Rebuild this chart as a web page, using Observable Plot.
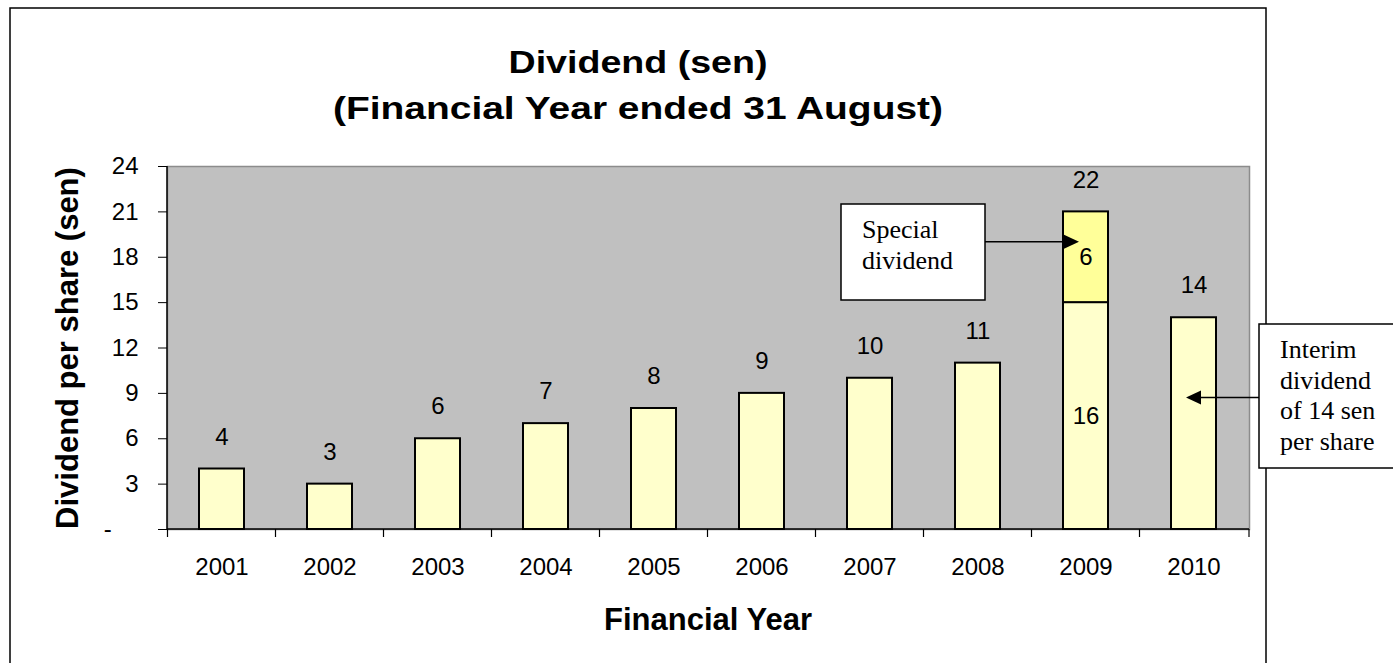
<!DOCTYPE html>
<html>
<head>
<meta charset="utf-8">
<script src="https://cdn.jsdelivr.net/npm/d3@7"></script>
<script src="https://cdn.jsdelivr.net/npm/@observablehq/plot@0.6"></script>
<style>
  html, body { margin: 0; padding: 0; background: white; overflow: hidden; }
  svg { display: block; }
</style>
</head>
<body>
<div id="chart"></div>
<script>
// ---- data ----
const years = ["2001","2002","2003","2004","2005","2006","2007","2008","2009","2010"];
const interimDrawn = [4, 3, 6, 7, 8, 9, 10, 11, 15, 14];   // bar heights as drawn
const specialDrawn = [0, 0, 0, 0, 0, 0, 0, 0, 6, 0];       // special-dividend segment as drawn
const totalLabels = ["4","3","6","7","8","9","10","11","22","14"];
const interimLabels = ["","","","","","","","","16",""];
const specialLabels = ["","","","","","","","","6",""];
const yTicks = [0, 3, 6, 9, 12, 15, 18, 21, 24];

const titleLines = ["Dividend (sen)", "(Financial Year ended 31 August)"];
const xTitle = "Financial Year";
const yTitle = "Dividend per share (sen)";
const specialNote = ["Special", "dividend"];
const interimNote = ["Interim", "dividend", "of 14 sen", "per share"];

// ---- tables built from the arrays ----
const rows = years.map((year, i) => ({
  year, interim: interimDrawn[i], special: specialDrawn[i],
  total: interimDrawn[i] + specialDrawn[i], label: totalLabels[i]
}));
const inBar = [];
years.forEach((year, i) => {
  if (interimLabels[i]) inBar.push({year, mid: interimDrawn[i] / 2, text: interimLabels[i]});
  if (specialLabels[i]) inBar.push({year, mid: interimDrawn[i] + specialDrawn[i] / 2, text: specialLabels[i]});
});

const FONT = "Arial, 'Liberation Sans', Helvetica, sans-serif";
const SERIF = "'Times New Roman', 'Liberation Serif', Times, serif";

const plot = Plot.plot({
  width: 1393,
  height: 663,
  marginLeft: 167,
  marginRight: 144,
  marginTop: 166,
  marginBottom: 134,
  style: {fontFamily: FONT, fontSize: "24px", color: "black", background: "white", overflow: "visible"},
  x: {type: "band", domain: years, paddingInner: 0.58, paddingOuter: 0.29, label: null},
  y: {domain: [0, 24], label: null},
  marks: [
    Plot.frame({fill: "#c0c0c0", stroke: "#8c8c8c", strokeWidth: 1.5}),
    Plot.barY(rows, {x: "year", y1: 0, y2: "interim", fill: "#ffffcc", stroke: "black", strokeWidth: 2}),
    Plot.barY(rows.filter(d => d.special > 0), {x: "year", y1: "interim", y2: "total", fill: "#ffff99", stroke: "black", strokeWidth: 2}),
    Plot.text(rows, {x: "year", y: "total", text: "label", dy: -32, fontSize: 24, fill: "black"}),
    Plot.text(inBar, {x: "year", y: "mid", text: "text", fontSize: 24, fill: "black"}),
    Plot.axisY({ticks: yTicks, tickSize: 9, tickPadding: 20, fontSize: 24, label: null,
      tickFormat: d => d === 0 ? "-\u2007\u2007" : String(d)}),
    Plot.axisX({tickSize: 0, tickPadding: 28, fontSize: 24, label: null})
  ]
});

const svg = d3.select(plot);
const xs = plot.scale("x");
const ys = plot.scale("y");
const [x0, x1] = xs.range;
const [yb, yt] = ys.range;

// outer chart frame
svg.append("rect").attr("x", 10).attr("y", 8).attr("width", 1256).attr("height", 720)
  .attr("fill", "none").attr("stroke", "black").attr("stroke-width", 1.5);

// black axis lines (left and bottom)
svg.append("line").attr("x1", x0).attr("x2", x0).attr("y1", yt).attr("y2", yb)
  .attr("stroke", "black").attr("stroke-width", 1.5);
svg.append("line").attr("x1", x0).attr("x2", x1).attr("y1", yb).attr("y2", yb)
  .attr("stroke", "black").attr("stroke-width", 1.5);

// category-boundary ticks (Excel style)
const gap = (xs.step - xs.bandwidth) / 2;
const bounds = years.map(y => xs.apply(y) - gap).concat([x1]);
svg.append("g").selectAll("line").data(bounds).join("line")
  .attr("x1", d => d).attr("x2", d => d).attr("y1", yb).attr("y2", yb + 8)
  .attr("stroke", "black").attr("stroke-width", 1.2);

// titles
const title = svg.append("text").attr("text-anchor", "middle")
  .attr("font-family", FONT).attr("font-weight", "bold").attr("font-size", 31).attr("fill", "black");
title.append("tspan").attr("x", 638).attr("y", 73).attr("textLength", 259).attr("lengthAdjust", "spacingAndGlyphs").text(titleLines[0]);
title.append("tspan").attr("x", 638).attr("y", 119).attr("textLength", 610).attr("lengthAdjust", "spacingAndGlyphs").text(titleLines[1]);

svg.append("text").attr("x", 708).attr("y", 630).attr("text-anchor", "middle")
  .attr("font-family", FONT).attr("font-weight", "bold").attr("font-size", 31).attr("fill", "black")
  .text(xTitle);

svg.append("text").attr("transform", "translate(78,348) rotate(-90)").attr("text-anchor", "middle")
  .attr("font-family", FONT).attr("font-weight", "bold").attr("font-size", 31).attr("fill", "black")
  .text(yTitle);

// arrow helper
function arrow(xFrom, yv, xTip) {
  const dir = xTip > xFrom ? 1 : -1;
  svg.append("line").attr("x1", xFrom).attr("x2", xTip - dir * 12).attr("y1", yv).attr("y2", yv)
    .attr("stroke", "black").attr("stroke-width", 1.5);
  svg.append("path")
    .attr("d", `M${xTip},${yv} L${xTip - dir * 15},${yv - 7} L${xTip - dir * 15},${yv + 7} Z`)
    .attr("fill", "black");
}

// special dividend note
const sBox = {x: 841, y: 204, w: 144, h: 96};
svg.append("rect").attr("x", sBox.x).attr("y", sBox.y).attr("width", sBox.w).attr("height", sBox.h)
  .attr("fill", "white").attr("stroke", "black").attr("stroke-width", 1.5);
const sText = svg.append("text").attr("text-anchor", "start").attr("font-family", SERIF).attr("font-size", 26).attr("fill", "black");
specialNote.forEach((t, i) => sText.append("tspan").attr("x", sBox.x + 21).attr("y", 238 + i * 31).text(t));
arrow(sBox.x + sBox.w, ys.apply(19), xs.apply("2009") + 16);

// interim dividend note
const iBox = {x: 1259, y: 324, w: 150, h: 144};
svg.append("rect").attr("x", iBox.x).attr("y", iBox.y).attr("width", iBox.w).attr("height", iBox.h)
  .attr("fill", "white").attr("stroke", "black").attr("stroke-width", 1.5);
const iText = svg.append("text").attr("text-anchor", "start").attr("font-family", SERIF).attr("font-size", 26).attr("fill", "black");
interimNote.forEach((t, i) => iText.append("tspan").attr("x", iBox.x + 21).attr("y", 358 + i * 30.5).text(t));
arrow(iBox.x, ys.apply(8.7), xs.apply("2010") + 15);

document.getElementById("chart").appendChild(plot);
</script>
</body>
</html>
